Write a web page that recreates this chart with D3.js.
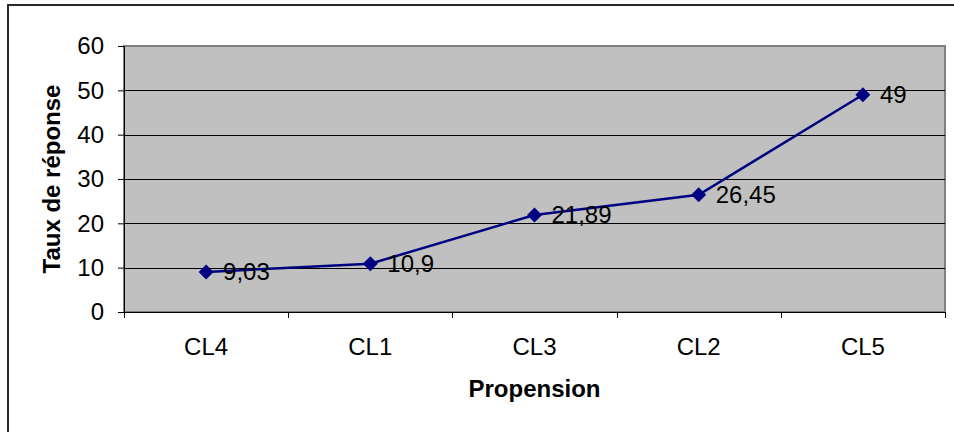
<!DOCTYPE html>
<html>
<head>
<meta charset="utf-8">
<script src="https://cdn.jsdelivr.net/npm/d3@7"></script>
<style>
  html, body { margin: 0; padding: 0; background: #fff; }
  svg { display: block; font-family: Arial, "Liberation Sans", sans-serif; }
</style>
</head>
<body>
<svg id="chart" width="954" height="432"></svg>
<script>
// Response rate by propensity class
const categories = ["CL4", "CL1", "CL3", "CL2", "CL5"];
const values = [9.03, 10.9, 21.89, 26.45, 49];
const valueLabels = ["9,03", "10,9", "21,89", "26,45", "49"];
const yTicks = [0, 10, 20, 30, 40, 50, 60];
const xTitle = "Propension";
const yTitle = "Taux de réponse";

const svg = d3.select("#chart");
const W = 954, H = 432;
const plot = { left: 124, top: 46, right: 945, bottom: 312 };
const FS = 24;

// outer chart frame (right/bottom edges fall outside the view)
svg.append("rect")
  .attr("x", 8).attr("y", 5)
  .attr("width", W + 10).attr("height", H + 10)
  .attr("fill", "#fff").attr("stroke", "#2a2a2a").attr("stroke-width", 2);

const x = d3.scaleBand().domain(categories).range([plot.left, plot.right]).padding(0);
const y = d3.scaleLinear().domain([0, 60]).range([plot.bottom, plot.top]);

// plot background
svg.append("rect")
  .attr("x", plot.left).attr("y", plot.top)
  .attr("width", plot.right - plot.left).attr("height", plot.bottom - plot.top)
  .attr("fill", "#c0c0c0").attr("stroke", "#808080").attr("stroke-width", 2);

// horizontal gridlines
svg.append("g").selectAll("line")
  .data(yTicks.filter(t => t > 0 && t < 60))
  .join("line")
  .attr("x1", plot.left).attr("x2", plot.right)
  .attr("y1", d => Math.round(y(d)) + 0.5).attr("y2", d => Math.round(y(d)) + 0.5)
  .attr("stroke", "#000").attr("stroke-width", 1);

// y axis
const yAxis = svg.append("g")
  .attr("transform", `translate(${plot.left},0)`)
  .call(d3.axisLeft(y).tickValues(yTicks).tickSize(6).tickPadding(14).tickFormat(d3.format("d")));
yAxis.select(".domain").attr("stroke", "#000");
yAxis.selectAll(".tick line").attr("stroke", "#000");
yAxis.selectAll("text").attr("font-size", FS).attr("fill", "#000")
  .attr("font-family", "Arial, 'Liberation Sans', sans-serif");

// x axis: ticks at category boundaries
const xAxis = svg.append("g").attr("transform", `translate(0,${plot.bottom})`);
xAxis.append("line")
  .attr("x1", plot.left).attr("x2", plot.right).attr("y1", 0.5).attr("y2", 0.5)
  .attr("stroke", "#000");
const bounds = categories.map(c => x(c)).concat([x(categories[categories.length - 1]) + x.bandwidth()]);
xAxis.selectAll("line.tk").data(bounds).join("line").attr("class", "tk")
  .attr("x1", d => Math.round(d) + 0.5).attr("x2", d => Math.round(d) + 0.5)
  .attr("y1", 0).attr("y2", 6).attr("stroke", "#000");
xAxis.selectAll("text").data(categories).join("text")
  .attr("x", d => x(d) + x.bandwidth() / 2)
  .attr("y", 43)
  .attr("text-anchor", "middle")
  .attr("font-size", FS).attr("fill", "#000")
  .text(d => d);

// axis titles
svg.append("text")
  .attr("x", (plot.left + plot.right) / 2).attr("y", 397)
  .attr("text-anchor", "middle").attr("font-weight", "bold").attr("font-size", FS)
  .text(xTitle);
svg.append("text")
  .attr("transform", `translate(60,${(plot.top + plot.bottom) / 2}) rotate(-90)`)
  .attr("text-anchor", "middle").attr("font-weight", "bold").attr("font-size", FS)
  .text(yTitle);

// series line
const cx = d => x(d) + x.bandwidth() / 2;
const line = d3.line().x((d, i) => cx(categories[i])).y(d => y(d));
svg.append("path").datum(values)
  .attr("d", line)
  .attr("fill", "none").attr("stroke", "#000080").attr("stroke-width", 2.5);

// diamond markers
svg.append("g").selectAll("path").data(values).join("path")
  .attr("transform", (d, i) => `translate(${cx(categories[i])},${y(d)})`)
  .attr("d", "M0,-7.5L7.5,0L0,7.5L-7.5,0Z")
  .attr("fill", "#000080");

// value labels
svg.append("g").selectAll("text").data(values).join("text")
  .attr("x", (d, i) => cx(categories[i]) + 17)
  .attr("y", d => y(d) + 8)
  .attr("font-size", FS).attr("fill", "#000")
  .text((d, i) => valueLabels[i]);
</script>
</body>
</html>
